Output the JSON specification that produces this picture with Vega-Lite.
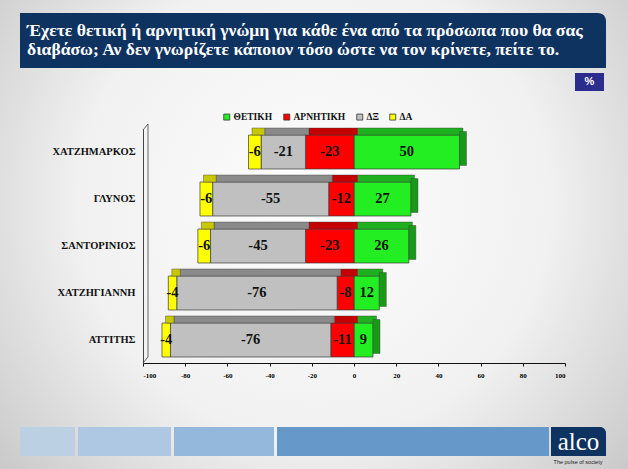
{
  "$schema": "https://vega.github.io/schema/vega-lite/v6.json",
  "width": 422,
  "height": 234,
  "autosize": {"type": "none"},
  "padding": {"left": 143, "top": 129, "right": 63, "bottom": 106},
  "background": "#e9e9e9",
  "config": {"view": {"stroke": null}, "font": "Liberation Serif"},
  "datasets": {
    "poll": [
      {"name": "ΧΑΤΖΗΜΑΡΚΟΣ", "category": "ΘΕΤΙΚΗ", "value": 50},
      {"name": "ΧΑΤΖΗΜΑΡΚΟΣ", "category": "ΑΡΝΗΤΙΚΗ", "value": -23},
      {"name": "ΧΑΤΖΗΜΑΡΚΟΣ", "category": "ΔΞ", "value": -21},
      {"name": "ΧΑΤΖΗΜΑΡΚΟΣ", "category": "ΔΑ", "value": -6},
      {"name": "ΓΛΥΝΟΣ", "category": "ΘΕΤΙΚΗ", "value": 27},
      {"name": "ΓΛΥΝΟΣ", "category": "ΑΡΝΗΤΙΚΗ", "value": -12},
      {"name": "ΓΛΥΝΟΣ", "category": "ΔΞ", "value": -55},
      {"name": "ΓΛΥΝΟΣ", "category": "ΔΑ", "value": -6},
      {"name": "ΣΑΝΤΟΡΙΝΙΟΣ", "category": "ΘΕΤΙΚΗ", "value": 26},
      {"name": "ΣΑΝΤΟΡΙΝΙΟΣ", "category": "ΑΡΝΗΤΙΚΗ", "value": -23},
      {"name": "ΣΑΝΤΟΡΙΝΙΟΣ", "category": "ΔΞ", "value": -45},
      {"name": "ΣΑΝΤΟΡΙΝΙΟΣ", "category": "ΔΑ", "value": -6},
      {"name": "ΧΑΤΖΗΓΙΑΝΝΗ", "category": "ΘΕΤΙΚΗ", "value": 12},
      {"name": "ΧΑΤΖΗΓΙΑΝΝΗ", "category": "ΑΡΝΗΤΙΚΗ", "value": -8},
      {"name": "ΧΑΤΖΗΓΙΑΝΝΗ", "category": "ΔΞ", "value": -76},
      {"name": "ΧΑΤΖΗΓΙΑΝΝΗ", "category": "ΔΑ", "value": -4},
      {"name": "ΑΤΤΙΤΗΣ", "category": "ΘΕΤΙΚΗ", "value": 9},
      {"name": "ΑΤΤΙΤΗΣ", "category": "ΑΡΝΗΤΙΚΗ", "value": -11},
      {"name": "ΑΤΤΙΤΗΣ", "category": "ΔΞ", "value": -76},
      {"name": "ΑΤΤΙΤΗΣ", "category": "ΔΑ", "value": -4}
    ]
  },
  "layer": [
    {
      "data": {"values": [{}]},
      "mark": {"type": "rect", "fill": {"gradient": "radial", "x1": 0.5, "y1": 0.45, "r1": 0, "x2": 0.5, "y2": 0.45, "r2": 0.75, "stops": [{"offset": 0, "color": "#fdfdfd"}, {"offset": 0.5, "color": "#f1f1f1"}, {"offset": 1, "color": "#bcbcbc"}]}},
      "encoding": {"x": {"value": -143}, "x2": {"value": 485}, "y": {"value": -129}, "y2": {"value": 340}}
    },
    {
      "data": {"values": [{}]},
      "mark": {"type": "rect", "fill": "#0f3361", "cornerRadiusTopRight": 8},
      "encoding": {"x": {"value": -123}, "x2": {"value": 463}, "y": {"value": -116}, "y2": {"value": -61}}
    },
    {
      "data": {"values": [{}]},
      "mark": {"type": "text", "color": "white", "fontSize": 17.6, "fontWeight": "bold", "font": "Liberation Serif", "align": "left", "baseline": "alphabetic", "lineHeight": 18.5},
      "encoding": {"x": {"value": -116}, "y": {"value": -93}, "text": {"value": ["Έχετε θετική ή αρνητική γνώμη για κάθε ένα από τα πρόσωπα που θα σας", "διαβάσω; Αν δεν γνωρίζετε κάποιον τόσο ώστε να τον κρίνετε, πείτε το."]}}
    },
    {
      "data": {"values": [{}]},
      "mark": {"type": "rect", "fill": "#2b2d8c"},
      "encoding": {"x": {"value": 432}, "x2": {"value": 461}, "y": {"value": -56}, "y2": {"value": -38}}
    },
    {
      "data": {"values": [{}]},
      "mark": {"type": "text", "color": "white", "fontSize": 11, "fontWeight": "bold", "font": "Liberation Sans", "align": "center", "baseline": "middle"},
      "encoding": {"x": {"value": 446.5}, "y": {"value": -47}, "text": {"value": "%"}}
    },
    {
      "data": {"values": [{}]},
      "mark": {"type": "rect", "fill": "#bcd0e4"},
      "encoding": {"x": {"value": -123}, "x2": {"value": -68}, "y": {"value": 298}, "y2": {"value": 327}}
    },
    {
      "data": {"values": [{}]},
      "mark": {"type": "rect", "fill": "#aec7e2"},
      "encoding": {"x": {"value": -65}, "x2": {"value": 28}, "y": {"value": 298}, "y2": {"value": 327}}
    },
    {
      "data": {"values": [{}]},
      "mark": {"type": "rect", "fill": "#93b8dc"},
      "encoding": {"x": {"value": 31}, "x2": {"value": 131}, "y": {"value": 298}, "y2": {"value": 327}}
    },
    {
      "data": {"values": [{}]},
      "mark": {"type": "rect", "fill": "#6699c9"},
      "encoding": {"x": {"value": 134}, "x2": {"value": 406}, "y": {"value": 298}, "y2": {"value": 327}}
    },
    {
      "data": {"values": [{}]},
      "mark": {"type": "rect", "fill": "#0f3361", "cornerRadiusTopRight": 6},
      "encoding": {"x": {"value": 408}, "x2": {"value": 463}, "y": {"value": 298}, "y2": {"value": 327}}
    },
    {
      "data": {"values": [{}]},
      "mark": {"type": "text", "color": "white", "fontSize": 25, "font": "Liberation Serif", "align": "center", "baseline": "alphabetic"},
      "encoding": {"x": {"value": 435.5}, "y": {"value": 321}, "text": {"value": "alco"}}
    },
    {
      "data": {"values": [{}]},
      "mark": {"type": "text", "color": "#222222", "fontSize": 5.5, "font": "Liberation Sans", "align": "center", "baseline": "middle"},
      "encoding": {"x": {"value": 435}, "y": {"value": 333}, "text": {"value": "The pulse of society"}}
    },
    {
      "data": {"values": [{}]},
      "mark": {"type": "rule", "color": "#444444", "strokeWidth": 0.8},
      "encoding": {"x": {"value": 5}, "y": {"value": -5}, "y2": {"value": 228}}
    },
    {
      "data": {"values": [{}]},
      "mark": {"type": "rule", "color": "#444444", "strokeWidth": 0.8},
      "encoding": {"x": {"value": 0}, "x2": {"value": 5}, "y": {"value": 234}, "y2": {"value": 228}}
    },
    {
      "data": {"values": [{}]},
      "mark": {"type": "rule", "color": "#444444", "strokeWidth": 0.8},
      "encoding": {"x": {"value": 0}, "x2": {"value": 5}, "y": {"value": 1}, "y2": {"value": -5}}
    },
    {
      "data": {"name": "poll"},
      "transform": [
        {"calculate": "indexof(['ΘΕΤΙΚΗ','ΑΡΝΗΤΙΚΗ','ΔΞ','ΔΑ'], datum.category)", "as": "rank"},
        {"stack": "value", "groupby": ["name"], "sort": [{"field": "rank"}], "as": ["x0", "x1"], "offset": "zero"}
      ],
      "mark": {"type": "bar", "stroke": "#3a3a3a", "strokeWidth": 0.7},
      "encoding": {
        "y": {"field": "name", "type": "nominal", "sort": ["ΧΑΤΖΗΜΑΡΚΟΣ", "ΓΛΥΝΟΣ", "ΣΑΝΤΟΡΙΝΙΟΣ", "ΧΑΤΖΗΓΙΑΝΝΗ", "ΑΤΤΙΤΗΣ"], "scale": {"paddingInner": 0.277, "paddingOuter": 0.128},
          "axis": {"title": null, "zindex": 1, "ticks": false, "domain": true, "domainColor": "#444444", "labelFont": "Liberation Serif", "labelFontWeight": "bold", "labelFontSize": 10.5, "labelColor": "#111111", "labelPadding": 8}},
        "x": {"field": "x0", "type": "quantitative", "scale": {"domain": [-100, 100], "nice": false},
          "axis": {"title": null, "zindex": 1, "values": [-100, -80, -60, -40, -20, 0, 20, 40, 60, 80, 100], "labelExpr": "'' + datum.value", "grid": false, "domainColor": "#111111", "tickColor": "#111111", "tickSize": 3, "labelFont": "Liberation Serif", "labelFontWeight": "bold", "labelFontSize": 7, "labelColor": "#000000", "labelPadding": 5}},
        "x2": {"field": "x1"},
        "color": {"field": "category", "type": "nominal",
          "scale": {"domain": ["ΘΕΤΙΚΗ", "ΑΡΝΗΤΙΚΗ", "ΔΞ", "ΔΑ"], "range": ["#22ee22", "#ff0000", "#c0c0c0", "#ffff00"]},
          "legend": {"title": null, "orient": "none", "legendX": 79, "legendY": -17, "direction": "horizontal", "symbolType": "square", "symbolSize": 36, "symbolStrokeColor": "#333333", "symbolStrokeWidth": 0.8, "labelFont": "Liberation Serif", "labelFontWeight": "bold", "labelFontSize": 9.5, "labelColor": "#111111", "labelOffset": 2, "columnPadding": 9}}
      }
    },
    {
      "data": {"name": "poll"},
      "transform": [
        {"calculate": "indexof(['ΘΕΤΙΚΗ','ΑΡΝΗΤΙΚΗ','ΔΞ','ΔΑ'], datum.category)", "as": "rank"},
        {"stack": "value", "groupby": ["name"], "sort": [{"field": "rank"}], "as": ["x0", "x1"], "offset": "zero"}
      ],
      "mark": {"type": "bar", "height": 7, "yOffset": -20.5, "xOffset": 3.5, "x2Offset": 3.5, "stroke": "#3a3a3a", "strokeWidth": 0.4},
      "encoding": {
        "y": {"field": "name", "type": "nominal", "sort": ["ΧΑΤΖΗΜΑΡΚΟΣ", "ΓΛΥΝΟΣ", "ΣΑΝΤΟΡΙΝΙΟΣ", "ΧΑΤΖΗΓΙΑΝΝΗ", "ΑΤΤΙΤΗΣ"]},
        "x": {"field": "x0", "type": "quantitative"},
        "x2": {"field": "x1"},
        "fill": {"field": "category", "type": "nominal", "legend": null,
          "scale": {"domain": ["ΘΕΤΙΚΗ", "ΑΡΝΗΤΙΚΗ", "ΔΞ", "ΔΑ"], "range": ["#1fb01f", "#c40000", "#8a8a8a", "#c8c800"]}}
      }
    },
    {
      "data": {"name": "poll"},
      "transform": [
        {"filter": "datum.category === 'ΘΕΤΙΚΗ'"},
        {"calculate": "indexof(['ΘΕΤΙΚΗ','ΑΡΝΗΤΙΚΗ','ΔΞ','ΔΑ'], datum.category)", "as": "rank"},
        {"stack": "value", "groupby": ["name"], "sort": [{"field": "rank"}], "as": ["x0", "x1"], "offset": "zero"}
      ],
      "mark": {"type": "bar", "height": 34, "yOffset": -3.5, "x2Offset": 7, "fill": "#189a18", "stroke": "#3a3a3a", "strokeWidth": 0.4},
      "encoding": {
        "y": {"field": "name", "type": "nominal", "sort": ["ΧΑΤΖΗΜΑΡΚΟΣ", "ΓΛΥΝΟΣ", "ΣΑΝΤΟΡΙΝΙΟΣ", "ΧΑΤΖΗΓΙΑΝΝΗ", "ΑΤΤΙΤΗΣ"]},
        "x": {"field": "x1", "type": "quantitative"},
        "x2": {"field": "x1"}
      }
    },
    {
      "data": {"name": "poll"},
      "transform": [
        {"calculate": "indexof(['ΘΕΤΙΚΗ','ΑΡΝΗΤΙΚΗ','ΔΞ','ΔΑ'], datum.category)", "as": "rank"},
        {"stack": "value", "groupby": ["name"], "sort": [{"field": "rank"}], "as": ["x0", "x1"], "offset": "zero"},
        {"calculate": "(datum.x0 + datum.x1) / 2", "as": "mid"}
      ],
      "mark": {"type": "text", "font": "Liberation Serif", "fontWeight": "bold", "fontSize": 14.5, "color": "#111111", "align": "center", "baseline": "middle"},
      "encoding": {
        "y": {"field": "name", "type": "nominal", "sort": ["ΧΑΤΖΗΜΑΡΚΟΣ", "ΓΛΥΝΟΣ", "ΣΑΝΤΟΡΙΝΙΟΣ", "ΧΑΤΖΗΓΙΑΝΝΗ", "ΑΤΤΙΤΗΣ"]},
        "x": {"field": "mid", "type": "quantitative"},
        "text": {"field": "value", "type": "nominal"}
      }
    }
  ]
}
